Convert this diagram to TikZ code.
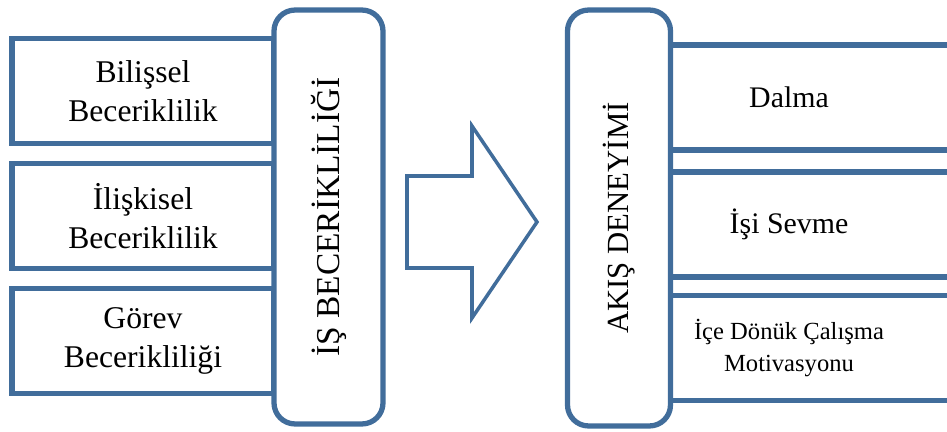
\documentclass[tikz,border=0pt]{standalone}
\usepackage{fontspec}
\setmainfont{Liberation Serif}
\definecolor{frameblue}{RGB}{65,109,155}

\begin{document}
\begin{tikzpicture}[x=0.02cm,y=-0.02cm,
    subbox/.style={draw=frameblue,line width=3pt,fill=white,minimum width=#1,minimum height=2.1cm,
        inner sep=0pt,align=center,font=\fontsize{18}{22}\selectfont},
    mainbox/.style={draw=frameblue,line width=3pt,fill=white,rounded corners=0.42cm,rotate=90,
        inner sep=0pt,align=center}]
    \useasboundingbox (0,0) rectangle (947,432);
    \clip (0,0) rectangle (947,432);

    % left side: skill boxes
    \node[subbox=5.24cm] (bilissel) at (143,91) {Bilişsel\\Beceriklilik};
    \node[subbox=5.24cm] (iliskisel) at (143,216) {İlişkisel\\Beceriklilik};
    \node[subbox=5.24cm] (gorev) at (143,341) {Görev\\Becerikliliği};
    \node[mainbox,minimum width=8.28cm,minimum height=2.18cm,font=\fontsize{19}{22}\selectfont]
        (isbeceri) at (328.5,217) {İŞ BECERİKLİLİĞİ};

    % big arrow in between
    \draw[frameblue,line width=2pt,fill=white,line join=miter]
        (407,176) -- (472,176) -- (472,126) -- (537,222) -- (472,318) -- (472,268) -- (407,268) -- cycle;

    % right side: flow boxes (cut off at the page edge)
    \node[subbox=7.56cm,font=\fontsize{17}{21}\selectfont] (dalma) at (789,97.5) {Dalma};
    \node[subbox=7.56cm,font=\fontsize{17}{21}\selectfont] (sevme) at (789,224.5) {İşi Sevme};
    \node[subbox=7.56cm,font=\fontsize{14}{18}\selectfont] (motivasyon) at (789,348) {İçe Dönük Çalışma\\Motivasyonu};
    \node[mainbox,minimum width=8.32cm,minimum height=2.06cm,font=\fontsize{17.5}{21}\selectfont]
        (akis) at (619,218) {AKIŞ DENEYİMİ};
\end{tikzpicture}
\end{document}
